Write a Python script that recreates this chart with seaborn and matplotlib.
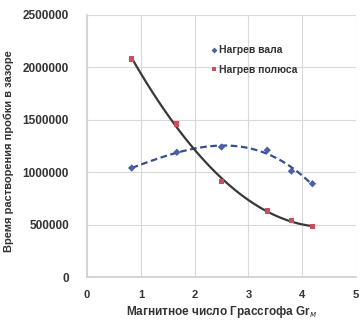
import numpy as np
import pandas as pd
import seaborn as sns
import matplotlib.pyplot as plt

# values
gr_shaft = [0.83, 1.67, 2.5, 3.35, 3.8, 4.19]
time_shaft = [1040000, 1190000, 1240000, 1210000, 1010000, 890000]
gr_pole = [0.83, 1.67, 2.5, 3.35, 3.8, 4.19]
time_pole = [2080000, 1460000, 910000, 630000, 540000, 480000]
x_ticks = [0, 1, 2, 3, 4, 5]
y_ticks = [0, 500000, 1000000, 1500000, 2000000, 2500000]
labels = ['Нагрев вала', 'Нагрев полюса']

sns.set_theme(style='white')
plt.rcParams['font.family'] = ['Liberation Sans', 'DejaVu Sans']

df = pd.concat([
    pd.DataFrame({'Gr': gr_shaft, 't': time_shaft, 'series': labels[0]}),
    pd.DataFrame({'Gr': gr_pole, 't': time_pole, 'series': labels[1]}),
])

fig = plt.figure(figsize=(3.6, 3.23), dpi=100)
ax = fig.add_axes([0.2417, 0.1424, 0.7473, 0.8112])

# polynomial trendlines as in the spreadsheet original
for xs, ys, deg, col, ls in [(gr_shaft, time_shaft, 3, '#34508f', (0, (3, 1.6))),
                             (gr_pole, time_pole, 2, '#383838', '-')]:
    k = np.polyfit(xs, ys, deg)
    xx = np.linspace(min(xs), max(xs), 100)
    ax.plot(xx, np.polyval(k, xx), color=col, lw=1.6, ls=ls, zorder=2)

sns.scatterplot(data=df, x='Gr', y='t', hue='series', style='series',
                markers={labels[0]: 'D', labels[1]: 's'},
                palette={labels[0]: '#4a5fa8', labels[1]: '#c8505e'},
                s=14, edgecolor='none', ax=ax, zorder=3)

ax.set_xlim(0, 5)
ax.set_ylim(0, 2500000)
ax.set_xticks(x_ticks)
ax.set_yticks(y_ticks)
ax.set_xticklabels([str(v) for v in x_ticks], fontsize=8, fontweight='bold', color='#333333')
ax.set_yticklabels([str(v) for v in y_ticks], fontsize=8.5, fontweight='bold', color='#333333')
ax.grid(True, color='#d9d9d9', lw=0.8)
for s in ax.spines.values():
    s.set_visible(False)
ax.spines['left'].set_visible(True)
ax.spines['left'].set_color('#d0d0d0')
ax.spines['bottom'].set_visible(True)
ax.spines['bottom'].set_color('#d0d0d0')
ax.tick_params(axis='x', length=3, color='#c0c0c0', pad=6)
ax.tick_params(axis='y', length=0, pad=13)

ax.set_xlabel('Магнитное число Грассгофа Gr$_{м}$', fontsize=8.5, fontweight='bold', color='#333333', labelpad=3)
ax.set_ylabel('Время растворения пробки в зазоре', fontsize=8, fontweight='bold', color='#333333', labelpad=1)
ax.yaxis.set_label_coords(-0.27, 0.48)

leg = ax.legend(loc='upper left', bbox_to_anchor=(0.44, 0.9), frameon=False,
                fontsize=7.5, handletextpad=0.1, markerscale=0.8, borderaxespad=0,
                handlelength=0.8, labelspacing=0.9)
for t in leg.get_texts():
    t.set_fontweight('bold')
    t.set_color('#333333')

fig.savefig('out.png', dpi=100)
